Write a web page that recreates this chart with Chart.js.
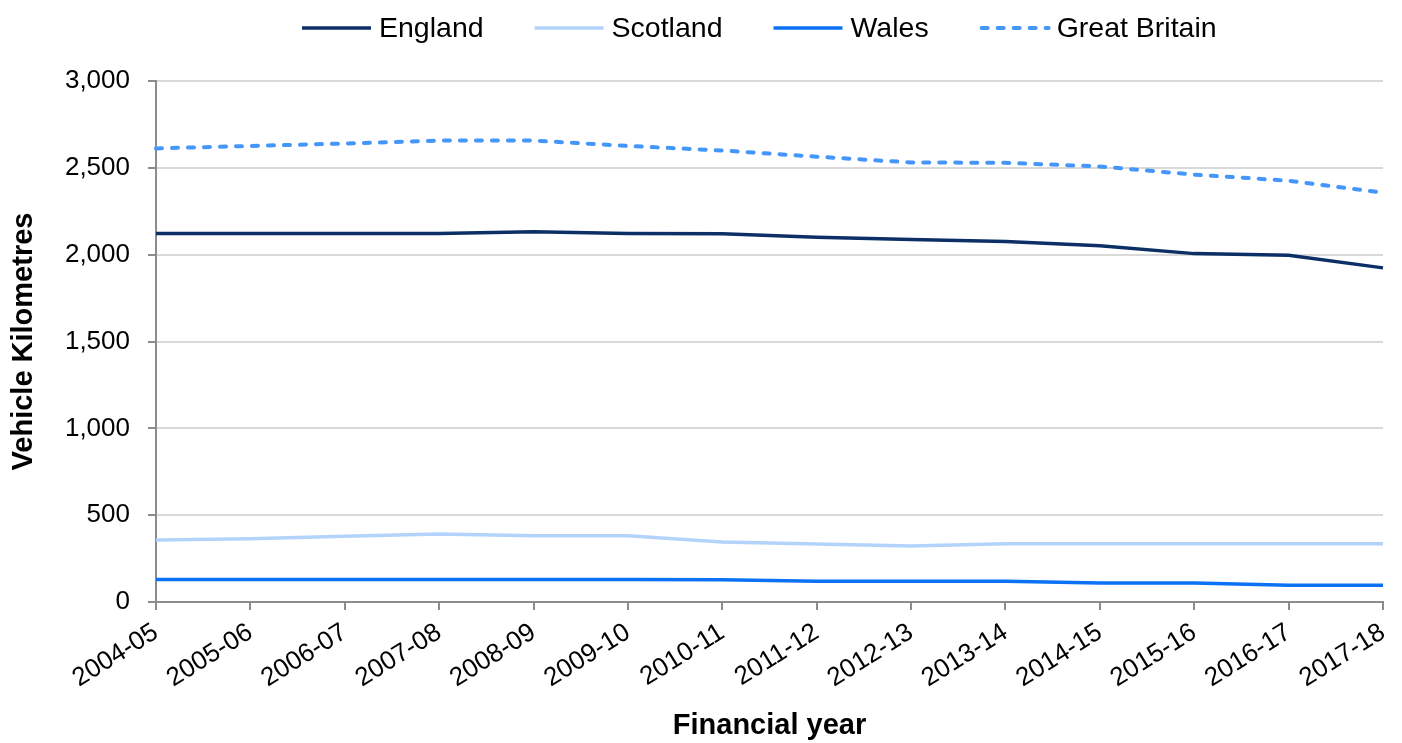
<!DOCTYPE html>
<html><head><meta charset="utf-8">
<script src="https://cdn.jsdelivr.net/npm/chart.js@4/dist/chart.umd.min.js"></script>
<style>html,body{margin:0;padding:0;background:#fff}#wrap{width:1402px;height:743px}</style>
</head><body><div id="wrap"><canvas id="c" width="1402" height="743"></canvas></div>
<script>
const categories = ['2004-05','2005-06','2006-07','2007-08','2008-09','2009-10','2010-11','2011-12','2012-13','2013-14','2014-15','2015-16','2016-17','2017-18'];
const england = [2122,2122,2122,2122,2132,2122,2120,2100,2088,2076,2051,2006,1996,1924];
const scotland = [357,364,378,391,382,382,345,334,323,336,336,336,336,336];
const wales = [130,130,130,130,130,130,128,119,119,120,109,109,96,96];
const greatBritain = [2612,2626,2640,2657,2657,2626,2600,2564,2531,2529,2508,2461,2426,2357];
const yTicks = [0,500,1000,1500,2000,2500,3000];
const seriesNames = ['England','Scotland','Wales','Great Britain'];

const FONT = "'Liberation Sans', Arial, sans-serif";
const colors = ['#0c2f66','#b3d3fb','#0b72f5','#4596fa'];

const legendPlugin = {
  id: 'customLegend',
  afterDraw(chart) {
    const ctx = chart.ctx;
    ctx.save();
    ctx.font = '28.5px ' + FONT;
    ctx.textBaseline = 'middle';
    ctx.textAlign = 'left';
    const lineLen = 69, gap = 8, itemGap = 51, y = 28;
    let x = 302;
    chart.data.datasets.forEach(d => {
      const dashed = d.borderDash && d.borderDash.length;
      ctx.beginPath();
      ctx.strokeStyle = d.borderColor;
      ctx.lineWidth = d.borderWidth;
      ctx.lineCap = dashed ? 'round' : 'butt';
      ctx.setLineDash(d.borderDash || []);
      ctx.moveTo(x + (dashed ? 2 : 0), y);
      ctx.lineTo(x + lineLen, y);
      ctx.stroke();
      ctx.setLineDash([]);
      ctx.fillStyle = '#000';
      ctx.fillText(d.label, x + lineLen + gap, y + 1);
      x += lineLen + gap + ctx.measureText(d.label).width + itemGap;
    });
    ctx.restore();
  }
};

new Chart(document.getElementById('c'), {
  type: 'line',
  data: {
    labels: categories,
    datasets: [
      {label: seriesNames[0], data: england, borderColor: colors[0], backgroundColor: colors[0], borderWidth: 3.5},
      {label: seriesNames[1], data: scotland, borderColor: colors[1], backgroundColor: colors[1], borderWidth: 3.5},
      {label: seriesNames[2], data: wales, borderColor: colors[2], backgroundColor: colors[2], borderWidth: 3.5},
      {label: seriesNames[3], data: greatBritain, borderColor: colors[3], backgroundColor: colors[3], borderWidth: 4, borderDash: [6, 10], borderCapStyle: 'round'}
    ]
  },
  options: {
    responsive: false,
    animation: false,
    devicePixelRatio: 1,
    layout: {padding: {top: 81, right: 19, bottom: 0, left: 0}},
    elements: {point: {radius: 0}, line: {tension: 0}},
    plugins: {legend: {display: false}, tooltip: {enabled: false}},
    scales: {
      x: {
        offset: false,
        grid: {drawOnChartArea: false, tickColor: '#8c8c8c', tickLength: 8, lineWidth: 2},
        border: {color: '#8c8c8c', width: 2},
        ticks: {autoSkip: false, maxRotation: 32, minRotation: 32, color: '#000', padding: 7, font: {family: FONT, size: 26}},
        title: {display: true, text: 'Financial year', color: '#000', font: {family: FONT, size: 29, weight: 'bold'}, padding: {top: 0, bottom: 0}},
        afterFit(s) { s.height = 141; s.paddingLeft = 0; s.paddingRight = 0; }
      },
      y: {
        min: 0, max: 3000,
        afterBuildTicks(s) { s.ticks = yTicks.map(v => ({value: v})); },
        grid: {color: '#d9d9d9', lineWidth: 2, tickColor: '#8c8c8c', tickLength: 8},
        border: {color: '#8c8c8c', width: 2},
        ticks: {color: '#000', padding: 18, font: {family: FONT, size: 26}},
        title: {display: true, text: 'Vehicle Kilometres', color: '#000', font: {family: FONT, size: 29, weight: 'bold'}, padding: {top: 7, bottom: 0}},
        afterFit(s) { s.width = 156; }
      }
    }
  },
  plugins: [legendPlugin]
});
</script></body></html>
